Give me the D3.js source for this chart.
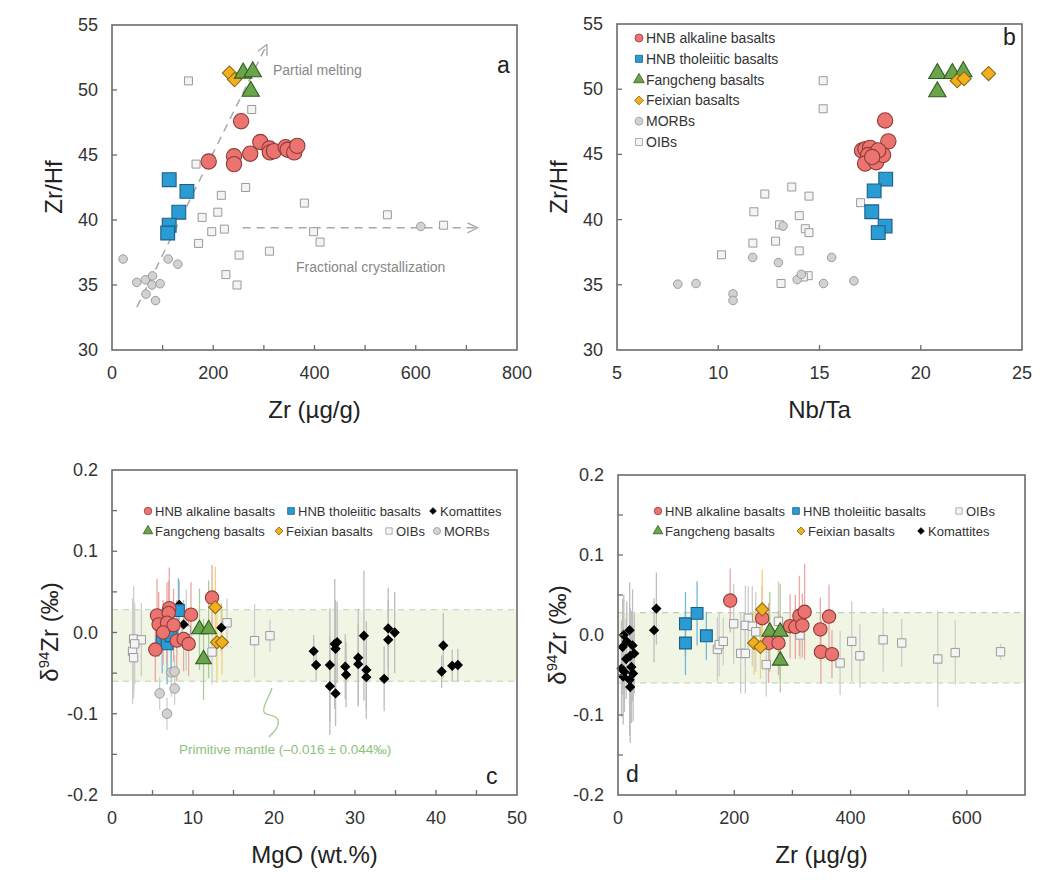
<!DOCTYPE html>
<html><head><meta charset="utf-8">
<script src="https://cdn.jsdelivr.net/npm/d3@7"></script>
<style>body{margin:0;background:#fff;font-family:"Liberation Sans",Arial,sans-serif;}</style>
</head><body>
<svg id="chart" width="1045" height="884"></svg>
<script>
// ---------- Panel a: Zr (µg/g) vs Zr/Hf ----------
const aAlkaline = [[191,44.5],[241,44.9],[241,44.3],[255,47.6],[273,45.1],[293,46.0],[311,45.5],[312,45.2],[320,45.3],[343,45.6],[347,45.4],[360,45.2],[366,45.7]];
const aTholeiitic = [[113,43.1],[148,42.2],[132,40.6],[113,39.6],[110,39.0]];
const aFangcheng = [[259,51.3],[278,51.4],[274,49.9]];
const aFeixian = [[232,51.3],[242,50.8]];
const aMORB = [[22,37.0],[49,35.2],[66,35.4],[80,35.7],[79,35.0],[95,35.1],[67,34.3],[86,33.8],[111,37.0],[130,36.6],[610,39.5]];
const aOIB = [[151,50.7],[276,48.5],[166,44.3],[264,42.5],[216,41.9],[380,41.3],[209,40.6],[178,40.2],[544,40.4],[655,39.6],[197,39.1],[222,39.3],[398,39.1],[411,38.3],[171,38.2],[251,37.3],[311,37.6],[225,35.8],[247,35.0]];
const aPartialMeltingArrow = [[49,33.3],[306,53.5]];
const aFractionalArrow = [[258,39.4],[722,39.4]];

// ---------- Panel b: Nb/Ta vs Zr/Hf ----------
const bAlkaline = [[18.24,47.6],[18.4,46.0],[17.1,45.3],[17.27,45.4],[17.5,45.5],[17.4,44.95],[17.25,44.3],[17.8,44.4],[18.14,44.95],[17.9,45.3],[17.6,44.8]];
const bTholeiitic = [[18.27,43.1],[17.7,42.2],[17.58,40.6],[18.24,39.5],[17.9,39.0]];
const bFangcheng = [[20.82,51.2],[21.56,51.2],[22.1,51.35],[20.82,49.8]];
const bFeixian = [[21.8,50.65],[22.14,50.8],[23.35,51.2]];
const bMORB = [[8.0,35.05],[8.9,35.1],[10.73,34.3],[10.73,33.8],[11.7,37.1],[12.97,36.7],[13.2,39.5],[13.9,35.4],[14.1,35.8],[15.2,35.1],[15.6,37.1],[16.7,35.3]];
const bOIB = [[15.18,50.65],[15.18,48.5],[13.63,42.5],[12.3,41.96],[14.48,41.8],[11.76,40.6],[14.0,40.3],[13.03,39.6],[14.3,39.3],[14.48,39.0],[17.03,41.3],[11.71,38.2],[12.83,38.35],[10.16,37.3],[14.0,37.6],[14.44,35.7],[13.1,35.1],[14.2,35.6]];

// ---------- Panel c: MgO (wt.%) vs δ94Zr, [x, y, error] ----------
const cAlkaline = [[5.56,0.021,0.045],[7.07,0.030,0.05],[7.0,0.024,0.04],[5.76,0.010,0.04],[6.79,0.012,0.05],[7.6,0.009,0.045],[9.75,0.022,0.04],[12.35,0.043,0.04],[5.35,-0.021,0.04],[8.0,-0.010,0.05],[8.84,-0.008,0.04],[9.46,-0.014,0.04],[6.3,0.000,0.04]];
const cTholeiitic = [[6.2,-0.010,0.04],[6.8,-0.014,0.05],[7.3,-0.004,0.04],[8.2,0.027,0.04]];
const cFangcheng = [[10.8,0.004,0.05],[11.93,0.004,0.06],[11.3,-0.033,0.05]];
const cFeixian = [[12.75,0.031,0.05],[12.96,-0.012,0.05],[13.58,-0.012,0.04]];
const cKomatiite = [[8.3,0.034,0.03],[8.84,0.010,0.03],[13.5,0.006,0.03],[24.9,-0.023,0.02],[25.2,-0.040,0.02],[26.9,-0.040,0.07],[26.9,-0.066,0.06],[27.5,-0.014,0.08],[27.8,-0.012,0.05],[27.6,-0.020,0.06],[27.6,-0.075,0.04],[28.8,-0.042,0.04],[28.9,-0.052,0.04],[30.4,-0.031,0.06],[30.4,-0.039,0.05],[31.1,-0.004,0.08],[31.4,-0.046,0.06],[31.4,-0.055,0.04],[33.6,-0.057,0.04],[34.1,0.005,0.05],[34.1,-0.009,0.05],[34.9,0.000,0.05],[40.9,-0.016,0.04],[40.7,-0.048,0.02],[42.0,-0.041,0.02],[42.7,-0.040,0.02]];
const cOIB = [[2.67,-0.008,0.065],[2.54,-0.023,0.065],[2.67,-0.031,0.05],[3.62,-0.009,0.045],[2.8,-0.014,0.05],[9.17,0.003,0.05],[12.35,-0.024,0.04],[14.2,0.012,0.03],[17.6,-0.010,0.045],[19.5,-0.004,0.02]];
const cMORB = [[7.32,-0.049,0.03],[7.73,-0.048,0.02],[5.88,-0.075,0.02],[7.73,-0.069,0.02],[6.79,-0.100,0.02]];

// ---------- Panel d: Zr (µg/g) vs δ94Zr, [x, y, error] ----------
const dAlkaline = [[193,0.043,0.04],[248,0.021,0.04],[259,-0.010,0.05],[276,-0.010,0.04],[296,0.011,0.04],[305,0.010,0.04],[312,0.024,0.05],[321,0.029,0.06],[317,0.012,0.04],[348,0.007,0.04],[349,-0.021,0.04],[363,0.023,0.04],[368,-0.024,0.03]];
const dTholeiitic = [[116,0.014,0.04],[136,0.027,0.04],[152,-0.001,0.03],[116,-0.010,0.04]];
const dFangcheng = [[261,0.004,0.05],[279,0.004,0.06],[279,-0.032,0.04]];
const dFeixian = [[248,0.032,0.05],[234,-0.010,0.04],[245,-0.015,0.04]];
const dKomatiite = [[20,0.006,0.06],[10,0.000,0.05],[15,-0.008,0.05],[25,-0.013,0.07],[8,-0.015,0.06],[28,-0.023,0.05],[21,-0.026,0.06],[6,-0.042,0.06],[23,-0.040,0.07],[11,-0.046,0.05],[20,-0.056,0.07],[21,-0.065,0.07],[9,-0.052,0.06],[62,0.006,0.04],[66,0.033,0.045],[14,-0.030,0.05],[26,-0.048,0.06]];
const dOIB = [[199,0.014,0.05],[224,0.021,0.04],[219,0.012,0.05],[231,0.011,0.05],[237,0.004,0.05],[171,-0.018,0.04],[174,-0.012,0.04],[181,-0.008,0.03],[211,-0.023,0.05],[219,-0.023,0.05],[255,-0.037,0.04],[276,0.017,0.05],[313,0.000,0.03],[402,-0.008,0.05],[416,-0.026,0.04],[382,-0.035,0.04],[456,-0.006,0.04],[488,-0.010,0.03],[550,-0.030,0.06],[580,-0.022,0.04],[658,-0.021,0.01]];

const pmMean = -0.016, pmErr = 0.044;

// tick labels
const aXTicks = [0,200,400,600,800];
const aYTicks = [30,35,40,45,50,55];
const bXTicks = [5,10,15,20,25];
const cXTicks = [0,10,20,30,40,50];
const dXTicks = [0,200,400,600];
const deltaTicks = [-0.2,-0.1,0.0,0.1,0.2];

// ---------- drawing ----------
const svg = d3.select("#chart");
const FONT = '"Liberation Sans", Arial, sans-serif';

const styles = {
  alkaline:   {shape:d3.symbolCircle,   fill:"#eb7370", stroke:"#8e3b38", bar:"#eaa7a4"},
  tholeiitic: {shape:d3.symbolSquare,   fill:"#2a9bd3", stroke:"#1c5f86", bar:"#6fb8e0"},
  fangcheng:  {shape:d3.symbolTriangle, fill:"#6aa54b", stroke:"#2f5b1f", bar:"#a9cd97"},
  feixian:    {shape:d3.symbolSquare,   fill:"#f2b01e", stroke:"#8d6a12", bar:"#f1d27a", rot:45},
  morb:       {shape:d3.symbolCircle,   fill:"#d2d2d2", stroke:"#9c9c9c", bar:"#cfcfcf"},
  oib:        {shape:d3.symbolSquare,   fill:"#f4f4f4", stroke:"#9a9a9a", bar:"#cdcdcd"},
  komatiite:  {shape:d3.symbolSquare,   fill:"#000000", stroke:"#000000", bar:"#bdbdbd", rot:45}
};

function frame(g, x, y){
  const [x0,x1] = x.range(), [y1,y0] = y.range();
  g.append("rect").attr("x",x0).attr("y",y0).attr("width",x1-x0).attr("height",y1-y0)
    .attr("fill","none").attr("stroke","#6b6b6b").attr("stroke-width",1.6);
}
function ticks(g, x, y, xt, yt, xl, yl, fmtY){
  const [x0,x1] = x.range(), [y1,y0] = y.range();
  xt.forEach(v=>{ const px=x(v); if(px>x0+1 && px<x1-1) g.append("line").attr("x1",px).attr("x2",px).attr("y1",y1).attr("y2",y1-5).attr("stroke","#6b6b6b").attr("stroke-width",1.3);});
  yt.forEach(v=>{ const py=y(v); if(py>y0+1 && py<y1-1) g.append("line").attr("x1",x0).attr("x2",x0+5).attr("y1",py).attr("y2",py).attr("stroke","#6b6b6b").attr("stroke-width",1.3);});
  xl.forEach(v=>g.append("text").attr("x",x(v)).attr("y",y1+29).attr("text-anchor","middle")
    .attr("font-size",18).attr("fill","#333").attr("font-family",FONT).text(v));
  yl.forEach(v=>g.append("text").attr("x",x0-14).attr("y",y(v)+6).attr("text-anchor","end")
    .attr("font-size",18).attr("fill","#333").attr("font-family",FONT).text(fmtY?fmtY(v):v));
}
function xTitle(g, x, y, txt){
  const [x0,x1] = x.range(), [y1] = y.range();
  g.append("text").attr("x",(x0+x1)/2).attr("y",y1+68).attr("text-anchor","middle")
    .attr("font-size",24).attr("fill","#222").attr("font-family",FONT).text(txt);
}
function points(g, x, y, data, key, size){
  const s = styles[key];
  const sym = d3.symbol().type(s.shape).size(size);
  g.append("g").selectAll("path").data(data).join("path")
    .attr("d", sym)
    .attr("transform", d=>`translate(${x(d[0])},${y(d[1])})${s.rot?` rotate(${s.rot})`:""}`)
    .attr("fill", s.fill).attr("stroke", s.stroke).attr("stroke-width", key==="oib"||key==="morb"?1:1.1);
}
function bars(g, x, y, data, key){
  const s = styles[key];
  g.append("g").selectAll("line").data(data).join("line")
    .attr("x1",d=>x(d[0])).attr("x2",d=>x(d[0]))
    .attr("y1",d=>y(d[1]+d[2])).attr("y2",d=>y(d[1]-d[2]))
    .attr("stroke",s.bar).attr("stroke-width",1.3);
}
function panelLetter(g, px, py, t){
  g.append("text").attr("x",px).attr("y",py).attr("font-size",23).attr("fill","#222")
    .attr("font-family",FONT).text(t);
}

// arrow marker
svg.append("defs").append("marker").attr("id","arr").attr("viewBox","0 0 12 12")
  .attr("refX",11).attr("refY",6).attr("markerWidth",12).attr("markerHeight",12)
  .attr("markerUnits","userSpaceOnUse").attr("orient","auto")
  .append("path").attr("d","M1,1 L11,6 L1,11").attr("fill","none").attr("stroke","#a8a8a8").attr("stroke-width",1.4);

// ===== Panel a =====
{
  const x = d3.scaleLinear().domain([0,800]).range([112,517]);
  const y = d3.scaleLinear().domain([30,55]).range([350,25]);
  const g = svg.append("g");
  const line = d3.line().x(d=>x(d[0])).y(d=>y(d[1]));
  [aPartialMeltingArrow, aFractionalArrow].forEach(a=>{
    g.append("path").attr("d",line(a)).attr("fill","none").attr("stroke","#a8a8a8")
      .attr("stroke-width",1.5).attr("stroke-dasharray","8,6").attr("marker-end","url(#arr)");
  });
  g.append("text").attr("x",273).attr("y",75).attr("font-size",14).attr("fill","#888").attr("font-family",FONT).text("Partial melting");
  g.append("text").attr("x",296).attr("y",272).attr("font-size",14).attr("fill","#888").attr("font-family",FONT).text("Fractional crystallization");
  points(g,x,y,aOIB,"oib",64);
  points(g,x,y,aMORB,"morb",58);
  points(g,x,y,aTholeiitic,"tholeiitic",190);
  points(g,x,y,aAlkaline,"alkaline",185);
  points(g,x,y,aFeixian,"feixian",100);
  points(g,x,y,aFangcheng,"fangcheng",130);
  frame(g,x,y);
  ticks(g,x,y,d3.range(0,801,100),aYTicks,aXTicks,aYTicks);
  xTitle(g,x,y,"Zr (µg/g)");
  g.append("text").attr("transform","translate(62,187) rotate(-90)").attr("text-anchor","middle")
    .attr("font-size",24).attr("fill","#222").attr("font-family",FONT).text("Zr/Hf");
  panelLetter(g,497,73,"a");
}

// ===== Panel b =====
{
  const x = d3.scaleLinear().domain([5,25]).range([617,1022]);
  const y = d3.scaleLinear().domain([30,55]).range([350,24]);
  const g = svg.append("g");
  points(g,x,y,bOIB,"oib",64);
  points(g,x,y,bMORB,"morb",58);
  points(g,x,y,bTholeiitic,"tholeiitic",190);
  points(g,x,y,bAlkaline,"alkaline",185);
  points(g,x,y,bFangcheng,"fangcheng",130);
  points(g,x,y,bFeixian,"feixian",100);
  frame(g,x,y);
  ticks(g,x,y,bXTicks,aYTicks,bXTicks,aYTicks);
  xTitle(g,x,y,"Nb/Ta");
  g.append("text").attr("transform","translate(567,187) rotate(-90)").attr("text-anchor","middle")
    .attr("font-size",24).attr("fill","#222").attr("font-family",FONT).text("Zr/Hf");
  panelLetter(g,1003,45,"b");
  const leg = [["HNB alkaline basalts","alkaline",50],["HNB tholeiitic basalts","tholeiitic",50],["Fangcheng basalts","fangcheng",50],
               ["Feixian basalts","feixian",40],["MORBs","morb",50],["OIBs","oib",50]];
  leg.forEach((l,i)=>{
    const yy = 38 + i*20.8, s = styles[l[1]];
    g.append("path").attr("d",d3.symbol().type(s.shape).size(l[2])())
      .attr("transform",`translate(639,${yy})${s.rot?" rotate(45)":""}`)
      .attr("fill",s.fill).attr("stroke",s.stroke).attr("stroke-width",0.8);
    g.append("text").attr("x",646).attr("y",yy+5).attr("font-size",14).attr("fill","#333")
      .attr("font-family",FONT).text(l[0]);
  });
}

function deltaBand(g, x, y){
  const [x0,x1] = x.range();
  const yt = y(pmMean+pmErr), yb = y(pmMean-pmErr);
  g.append("rect").attr("x",x0).attr("y",yt).attr("width",x1-x0).attr("height",yb-yt).attr("fill","#f1f6e4");
  [yt,yb].forEach(v=>g.append("line").attr("x1",x0).attr("x2",x1).attr("y1",v).attr("y2",v)
    .attr("stroke","#b5d3b8").attr("stroke-width",1.2).attr("stroke-dasharray","6,5"));
}
function deltaTitle(g, cx, cy){
  const t = g.append("text").attr("transform",`translate(${cx},${cy}) rotate(-90)`).attr("text-anchor","middle")
    .attr("font-size",24).attr("fill","#222").attr("font-family",FONT);
  t.append("tspan").text("δ");
  t.append("tspan").attr("font-size",15).attr("dy",-9).text("94");
  t.append("tspan").attr("dy",9).text("Zr (‰)");
}
function deltaLegend(g, rows){
  rows.forEach(r=>{
    const s = styles[r[1]];
    g.append("path").attr("d",d3.symbol().type(s.shape).size(r[4])())
      .attr("transform",`translate(${r[2]},${r[3]})${s.rot?" rotate(45)":""}`)
      .attr("fill",s.fill).attr("stroke",s.stroke).attr("stroke-width",0.8);
    g.append("text").attr("x",r[2]+7).attr("y",r[3]+4.5).attr("font-size",13).attr("fill","#333")
      .attr("font-family",FONT).text(r[0]);
  });
}
const fmtDelta = v => d3.format(".1f")(v).replace("−","-");

// ===== Panel c =====
{
  const x = d3.scaleLinear().domain([0,50]).range([112,517]);
  const y = d3.scaleLinear().domain([-0.2,0.2]).range([795,470]);
  const g = svg.append("g");
  deltaBand(g,x,y);
  [["oib",cOIB],["morb",cMORB],["komatiite",cKomatiite],["tholeiitic",cTholeiitic],
   ["alkaline",cAlkaline],["fangcheng",cFangcheng],["feixian",cFeixian]].forEach(s=>bars(g,x,y,s[1],s[0]));
  points(g,x,y,cOIB,"oib",70);
  points(g,x,y,cMORB,"morb",72);
  points(g,x,y,cKomatiite,"komatiite",38);
  points(g,x,y,cTholeiitic,"tholeiitic",140);
  points(g,x,y,cAlkaline,"alkaline",140);
  points(g,x,y,cFeixian,"feixian",85);
  points(g,x,y,cFangcheng,"fangcheng",105);
  // squiggle pointer + label
  g.append("path").attr("d","M272,688 C268,700 262,706 264,712 C266,716 276,714 278,720 C280,728 272,733 269,737")
    .attr("fill","none").attr("stroke","#98c789").attr("stroke-width",1.2);
  g.append("text").attr("x",179).attr("y",754).attr("font-size",13.5).attr("fill","#8dc27b")
    .attr("font-family",FONT).text("Primitive mantle (–0.016 ± 0.044‰)");
  frame(g,x,y);
  ticks(g,x,y,d3.range(0,51,5),d3.range(-0.2,0.2001,0.05),cXTicks,deltaTicks,fmtDelta);
  xTitle(g,x,y,"MgO (wt.%)");
  deltaTitle(g,58,632);
  panelLetter(g,486,784,"c");
  deltaLegend(g,[["HNB alkaline basalts","alkaline",148,511,45],["HNB tholeiitic basalts","tholeiitic",291,511,45],["Komattites","komatiite",433,511,22],
                 ["Fangcheng basalts","fangcheng",148,531,40],["Feixian basalts","feixian",279,531,32],["OIBs","oib",389,531,40],["MORBs","morb",437,531,40]]);
}

// ===== Panel d =====
{
  const x = d3.scaleLinear().domain([0,700]).range([618,1025]);
  const y = d3.scaleLinear().domain([-0.2,0.2]).range([795,475]);
  const g = svg.append("g");
  deltaBand(g,x,y);
  [["oib",dOIB],["komatiite",dKomatiite],["tholeiitic",dTholeiitic],["alkaline",dAlkaline],["fangcheng",dFangcheng],["feixian",dFeixian]]
    .forEach(s=>bars(g,x,y,s[1],s[0]));
  points(g,x,y,dOIB,"oib",70);
  points(g,x,y,dKomatiite,"komatiite",38);
  points(g,x,y,dTholeiitic,"tholeiitic",140);
  points(g,x,y,dAlkaline,"alkaline",140);
  points(g,x,y,dFeixian,"feixian",85);
  points(g,x,y,dFangcheng,"fangcheng",105);
  frame(g,x,y);
  ticks(g,x,y,d3.range(0,701,100),d3.range(-0.2,0.2001,0.05),dXTicks,deltaTicks,fmtDelta);
  xTitle(g,x,y,"Zr (µg/g)");
  deltaTitle(g,566,635);
  panelLetter(g,626,782,"d");
  deltaLegend(g,[["HNB alkaline basalts","alkaline",658,511,45],["HNB tholeiitic basalts","tholeiitic",796,511,45],["OIBs","oib",959,511,40],
                 ["Fangcheng basalts","fangcheng",658,531,40],["Feixian basalts","feixian",801,531,32],["Komattites","komatiite",921,531,22]]);
}
</script>
</body></html>
